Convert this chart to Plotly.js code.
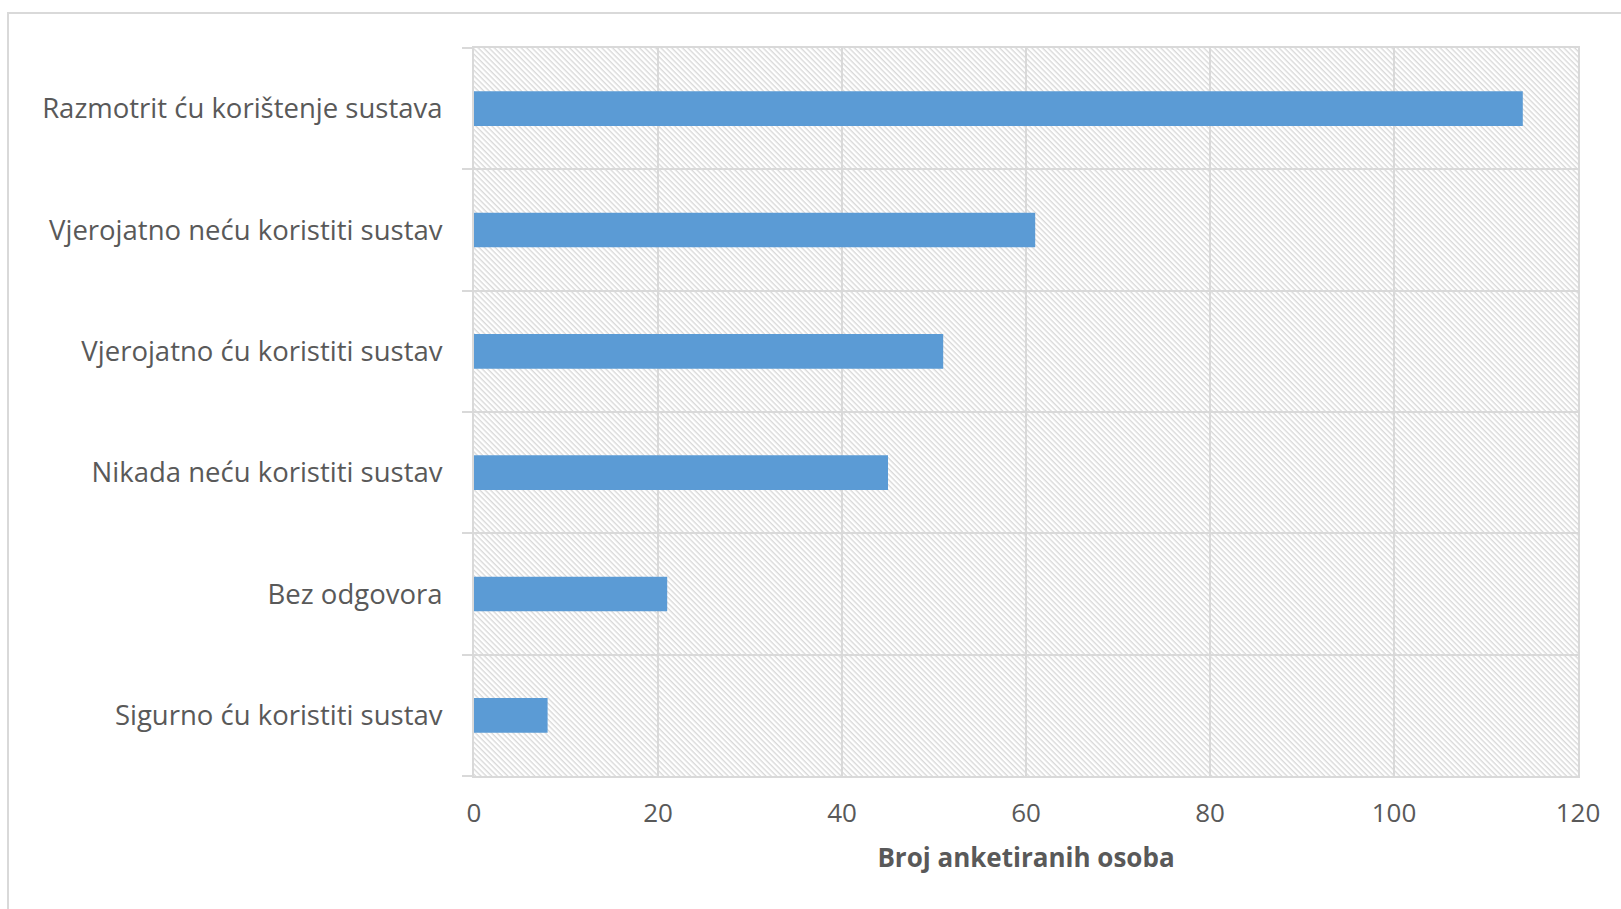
<!DOCTYPE html>
<html>
<head>
<meta charset="utf-8">
<script src="https://cdn.plot.ly/plotly-3.0.1.min.js"></script>
<style>
  html, body { margin: 0; padding: 0; background: #ffffff; overflow: hidden; }
  #chart { width: 1621px; height: 909px; }
</style>
</head>
<body>
<div id="chart"></div>
<script>
// Data (bottom to top)
const categories = [
  "Sigurno ću koristiti sustav",
  "Bez odgovora",
  "Nikada neću koristiti sustav",
  "Vjerojatno ću koristiti sustav",
  "Vjerojatno neću koristiti sustav",
  "Razmotrit ću korištenje sustava"
];
const counts = [8, 21, 45, 51, 61, 114];
const xTickValues = [0, 20, 40, 60, 80, 100, 120];
const xTitle = "Broj anketiranih osoba";

// Layout geometry
const W = 1621, H = 909;
const ML = 474, MR = 43, MT = 48, MB = 133;
const PW = W - ML - MR, PH = H - MT - MB;

// Hatched plot background as an SVG image
const hatchSvg =
  '<svg xmlns="http://www.w3.org/2000/svg" width="' + PW + '" height="' + PH + '">' +
  '<defs><pattern id="h" patternUnits="userSpaceOnUse" width="3.8" height="3.8" patternTransform="rotate(45)">' +
  '<rect x="0" y="0" width="3.8" height="1.4" fill="#d9d9d9"/></pattern></defs>' +
  '<rect x="0" y="0" width="' + PW + '" height="' + PH + '" fill="#ffffff"/>' +
  '<rect x="0" y="0" width="' + PW + '" height="' + PH + '" fill="url(#h)"/></svg>';
const hatchSrc = 'data:image/svg+xml;charset=utf-8,' + encodeURIComponent(hatchSvg);

const textColor = '#595959';
const gridColor = '#d9d9d9';

const trace = {
  type: 'bar',
  orientation: 'h',
  y: categories,
  x: counts,
  marker: { color: '#5b9bd5', line: { width: 0 } },
  hoverinfo: 'x+y'
};

const layout = {
  width: W,
  height: H,
  margin: { l: ML, r: MR, t: MT, b: MB, pad: 0 },
  paper_bgcolor: '#ffffff',
  plot_bgcolor: 'rgba(0,0,0,0)',
  bargap: 0.714,
  showlegend: false,
  font: { family: '"Open Sans", "Noto Sans", sans-serif', color: textColor, size: 24 },
  xaxis: {
    range: [0, 120],
    tickvals: xTickValues,
    ticktext: xTickValues.map(String),
    showgrid: true,
    gridcolor: gridColor,
    gridwidth: 2,
    zeroline: false,
    showline: true,
    linecolor: gridColor,
    linewidth: 2,
    mirror: true,
    ticks: '',
    ticklabelstandoff: 13,
    tickfont: { size: 26, color: textColor },
    title: {
      text: xTitle,
      font: { size: 26, color: textColor, weight: 'bold' },
      standoff: 20
    },
    fixedrange: true
  },
  yaxis: {
    type: 'category',
    range: [-0.5, 5.5],
    tickson: 'boundaries',
    showgrid: true,
    gridcolor: gridColor,
    gridwidth: 2,
    zeroline: false,
    showline: true,
    linecolor: gridColor,
    linewidth: 2,
    mirror: true,
    ticks: 'outside',
    ticklen: 10,
    tickwidth: 2,
    tickcolor: gridColor,
    ticklabelstandoff: 24,
    tickfont: { size: 27.5, color: textColor },
    fixedrange: true
  },
  images: [{
    source: hatchSrc,
    xref: 'paper', yref: 'paper',
    x: 0, y: 1, sizex: 1, sizey: 1,
    xanchor: 'left', yanchor: 'top',
    sizing: 'stretch',
    layer: 'below'
  }],
  shapes: [{
    type: 'rect',
    xref: 'paper', yref: 'paper',
    x0: (8 - ML) / PW,
    x1: (W + 40 - ML) / PW,
    y0: -(H + 40 - MT - PH) / PH,
    y1: 1 + (MT - 13) / PH,
    line: { color: gridColor, width: 2 },
    fillcolor: 'rgba(0,0,0,0)',
    layer: 'below'
  }]
};

Plotly.newPlot('chart', [trace], layout, { displayModeBar: false, staticPlot: true });
</script>
</body>
</html>
